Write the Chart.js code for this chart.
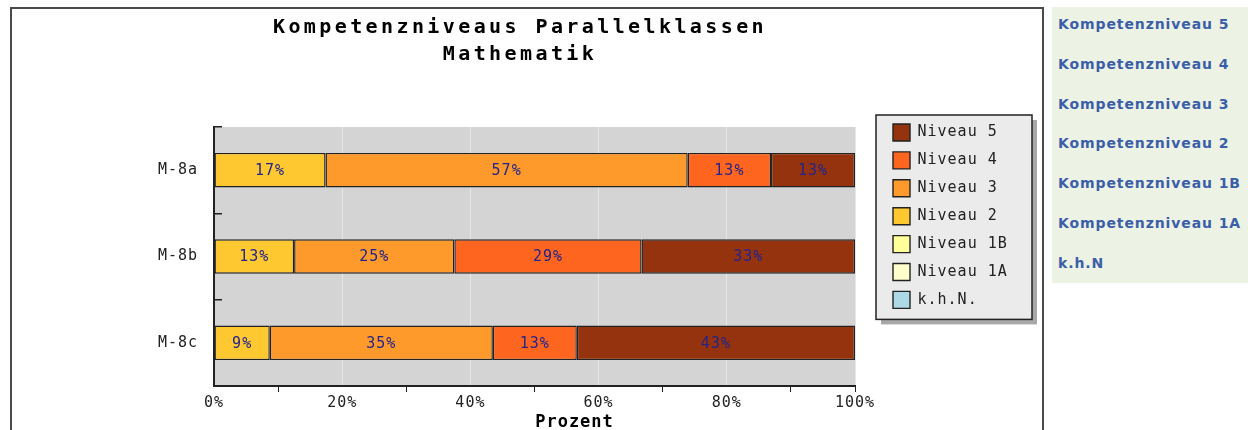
<!DOCTYPE html>
<html>
<head>
<meta charset="utf-8">
<script src="https://cdn.jsdelivr.net/npm/chart.js@4/dist/chart.umd.min.js"></script>
<style>
  html, body { margin: 0; padding: 0; background: #ffffff; overflow: hidden; }
  body { width: 1248px; height: 430px; position: relative; }
  #frame { position: absolute; left: 10px; top: 7px; width: 1030px; height: 500px; border: 2px solid #4a4a4a; box-sizing: content-box; }
  #chart { position: absolute; left: 0; top: 0; }
  #side { position: absolute; left: 1052px; top: 7px; width: 196px; height: 276px; background: #ecf2e4; box-sizing: border-box; padding-top: 9px; }
  #side div { height: 39.8px; line-height: 34px; padding-left: 6px; font: bold 14px "DejaVu Sans", Verdana, sans-serif; color: #3b5ea8; letter-spacing: 0.9px; white-space: nowrap; }
</style>
</head>
<body>
<div id="frame"></div>
<canvas id="chart" width="1040" height="430"></canvas>
<div id="side">
  <div>Kompetenzniveau 5</div>
  <div>Kompetenzniveau 4</div>
  <div>Kompetenzniveau 3</div>
  <div>Kompetenzniveau 2</div>
  <div>Kompetenzniveau 1B</div>
  <div>Kompetenzniveau 1A</div>
  <div>k.h.N</div>
</div>
<script>
// ---- data ----
const categories = ['M-8a', 'M-8b', 'M-8c'];
const seriesNames = ['k.h.N.', 'Niveau 1A', 'Niveau 1B', 'Niveau 2', 'Niveau 3', 'Niveau 4', 'Niveau 5'];
const khN      = [0, 0, 0];
const niveau1A = [0, 0, 0];
const niveau1B = [0, 0, 0];
const niveau2  = [17.4, 12.5, 8.7];
const niveau3  = [56.5, 25.0, 34.8];
const niveau4  = [13.0, 29.2, 13.1];
const niveau5  = [13.1, 33.3, 43.4];
const seriesColors = ['#add8e6', '#ffffcc', '#ffff99', '#fec930', '#fd9a2b', '#fe6620', '#94330e'];
const xTickLabels = ['0%', '', '20%', '', '40%', '', '60%', '', '80%', '', '100%'];
const titleLines = ['Kompetenzniveaus Parallelklassen', 'Mathematik'];
const xAxisTitle = 'Prozent';

const seriesValues = [khN, niveau1A, niveau1B, niveau2, niveau3, niveau4, niveau5];

const MONO = "'DejaVu Sans Mono', 'Liberation Mono', monospace";
const LEGEND_W = 185;
const LEGEND_PAD = 10.9;

const customPlugin = {
  id: 'custom',
  beforeUpdate(chart) {
    const lg = chart.legend;
    if (lg && !lg._wrapped) {
      const fit = lg.fit;
      lg.fit = function () { fit.call(this); this.width = LEGEND_W; };
      lg._wrapped = true;
    }
    const tb = chart.titleBlock;
    if (tb && !tb._wrapped) {
      const draw = tb.draw;
      tb.draw = function () {
        const c = this.ctx;
        const prev = c.letterSpacing;
        c.letterSpacing = '3.4px';
        draw.apply(this, arguments);
        c.letterSpacing = prev;
      };
      tb._wrapped = true;
    }
  },
  afterLayout(chart) {
    const lg = chart.legend;
    const ca = chart.chartArea;
    if (lg) {
      lg.left = ca.right + 38 - LEGEND_PAD;
      lg.right = lg.left + lg.width;
      lg.top = ca.top - 3 - LEGEND_PAD;
      lg.bottom = lg.top + 220;
      lg.height = lg.bottom - lg.top;
    }
    const sx = chart.scales.x;
    if (sx && !sx._wrapped) {
      const dt = sx.drawTitle;
      sx.drawTitle = function () {
        const c = this.ctx;
        c.save();
        c.translate(40, 3);
        dt.apply(this, arguments);
        c.restore();
      };
      sx._wrapped = true;
    }
  },
  beforeDraw(chart) {
    const ctx = chart.ctx;
    const ca = chart.chartArea;
    ctx.letterSpacing = '1px';
    ctx.save();
    ctx.fillStyle = '#d4d4d4';
    ctx.fillRect(ca.left, ca.top, ca.right - ca.left, ca.bottom - ca.top);
    // legend background box with shadow
    const lg = chart.legend;
    if (lg && lg.legendHitBoxes && lg.legendHitBoxes.length) {
      const hb = lg.legendHitBoxes;
      let l = Infinity, t = Infinity, b = -Infinity;
      hb.forEach(h => { l = Math.min(l, h.left); t = Math.min(t, h.top); b = Math.max(b, h.top + h.height); });
      const x0 = l - 17, y0 = t - 9, x1 = x0 + 156, y1 = b + 11;
      ctx.fillStyle = '#a8a8a8';
      ctx.fillRect(x0 + 5, y0 + 5, x1 - x0, y1 - y0);
      ctx.fillStyle = '#ebebeb';
      ctx.fillRect(x0, y0, x1 - x0, y1 - y0);
      ctx.strokeStyle = '#222222';
      ctx.lineWidth = 1.5;
      ctx.strokeRect(x0, y0, x1 - x0, y1 - y0);
    }
    ctx.restore();
  },
  afterDatasetsDraw(chart) {
    const ctx = chart.ctx;
    ctx.save();
    ctx.font = '15px ' + MONO;
    ctx.fillStyle = '#24248a';
    ctx.textAlign = 'center';
    ctx.textBaseline = 'middle';
    chart.data.datasets.forEach((ds, di) => {
      const meta = chart.getDatasetMeta(di);
      meta.data.forEach((bar, i) => {
        const v = ds.data[i];
        if (!v) return;
        const p = bar.getProps(['x', 'y', 'base'], true);
        ctx.fillText(Math.round(v) + '%', (p.x + p.base) / 2, p.y + 1);
      });
    });
    ctx.restore();
  }
};

Chart.defaults.font.family = MONO;
Chart.defaults.font.size = 15;
Chart.defaults.color = '#222222';

new Chart(document.getElementById('chart'), {
  type: 'bar',
  data: {
    labels: categories,
    datasets: seriesNames.map((name, i) => ({
      label: name,
      data: seriesValues[i],
      backgroundColor: seriesColors[i],
      borderColor: '#222222',
      borderWidth: 1.4,
      borderSkipped: false,
      categoryPercentage: 1.0,
      barPercentage: 0.4
    }))
  },
  options: {
    indexAxis: 'y',
    responsive: false,
    animation: false,
    devicePixelRatio: 1,
    layout: { padding: 0 },
    events: [],
    plugins: {
      title: {
        display: true,
        text: titleLines,
        color: '#000000',
        font: { family: MONO, size: 20, weight: 'bold', lineHeight: 1.35 },
        padding: { top: 14.5, bottom: 58.5 }
      },
      legend: {
        display: true,
        position: 'right',
        align: 'start',
        reverse: true,
        labels: {
          boxWidth: 17,
          boxHeight: 17,
          padding: LEGEND_PAD,
          color: '#222222',
          font: { family: MONO, size: 15 }
        }
      },
      tooltip: { enabled: false }
    },
    scales: {
      x: {
        stacked: true,
        min: 0,
        max: 100,
        ticks: {
          stepSize: 10,
          autoSkip: false,
          maxRotation: 0,
          padding: 2,
          color: '#222222',
          callback: (v, i) => xTickLabels[i]
        },
        grid: {
          color: c => (c.tick && c.tick.value % 20 === 0) ? '#e6e6e6' : 'rgba(0,0,0,0)',
          tickColor: c => (c.tick && (c.tick.value % 20 !== 0 || c.tick.value === 100)) ? '#222222' : 'rgba(0,0,0,0)',
          tickLength: 6,
          lineWidth: 1
        },
        border: { color: '#222222', width: 2 },
        title: {
          display: true,
          text: xAxisTitle,
          color: '#000000',
          font: { family: MONO, size: 17, weight: 'bold', lineHeight: 1.2 },
          padding: { top: 0, bottom: 0 }
        },
        afterFit: s => { s.height = 44; }
      },
      y: {
        stacked: true,
        ticks: { padding: 24, color: '#222222' },
        grid: {
          drawOnChartArea: false,
          offset: true,
          tickLength: -8,
          tickColor: '#222222',
          lineWidth: 1.5
        },
        border: { color: '#222222', width: 2 },
        afterFit: s => { s.width = 214; }
      }
    }
  },
  plugins: [customPlugin]
});
</script>
</body>
</html>
